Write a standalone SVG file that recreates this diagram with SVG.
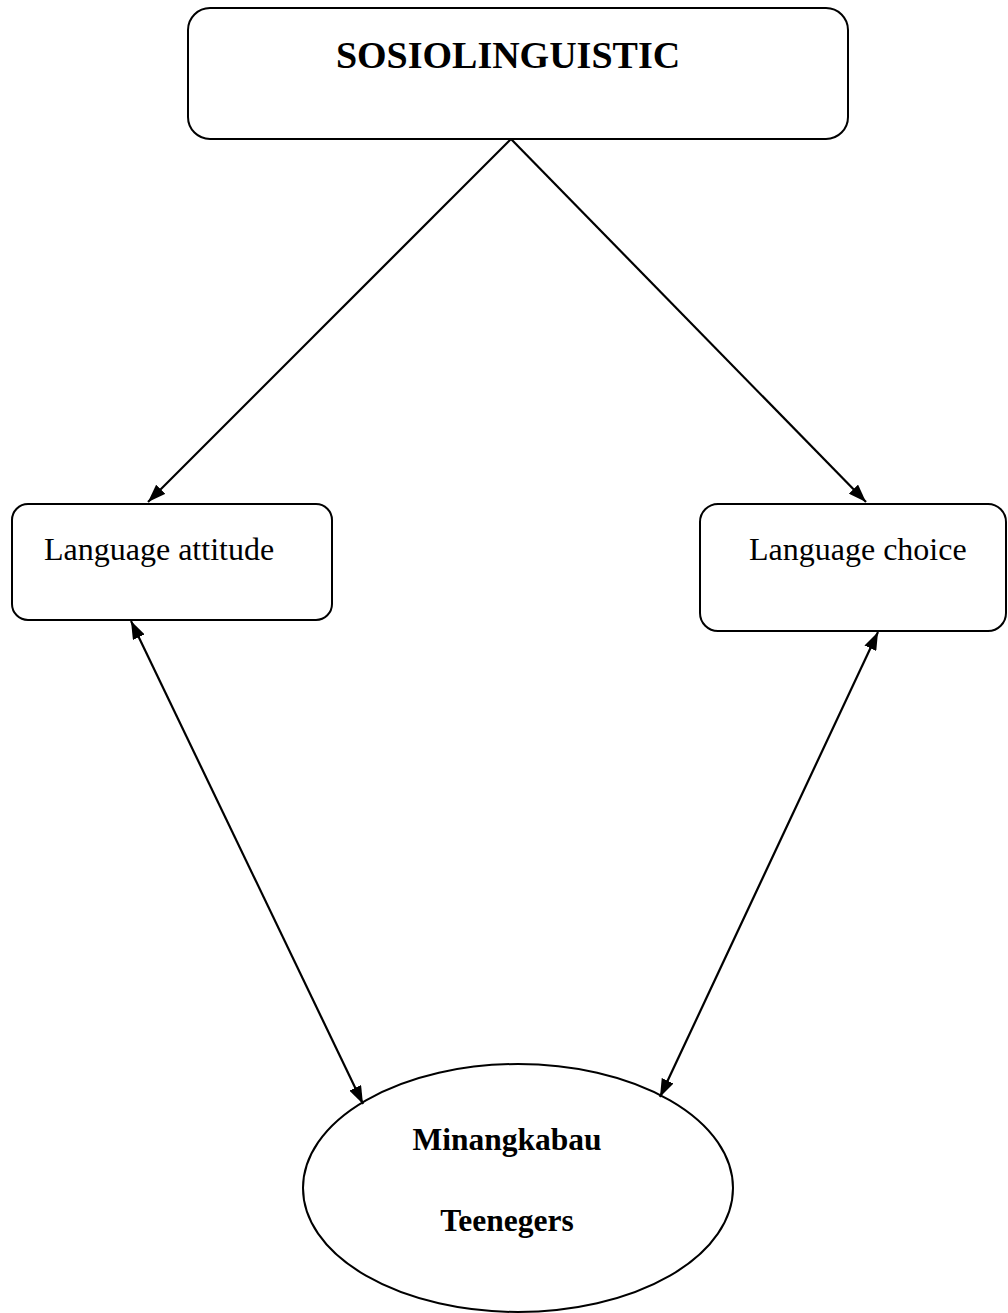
<svg xmlns="http://www.w3.org/2000/svg" width="1008" height="1313" viewBox="0 0 1008 1313">
  <style>
    .box { fill: #ffffff; stroke: #000000; stroke-width: 2; }
    .conn { stroke: #000000; stroke-width: 2.2; fill: none; }
    .lbl { font-family: "Liberation Serif", "Times New Roman", serif; fill: #000000; }
    .title { font-size: 38px; font-weight: bold; }
    .reg { font-size: 32px; }
    .bold { font-size: 31.5px; font-weight: bold; }
  </style>
  <defs>
    <marker id="arrow" viewBox="0 0 18 13" refX="18" refY="6.5" markerWidth="18" markerHeight="13" markerUnits="userSpaceOnUse" orient="auto-start-reverse">
      <path d="M0,0 L18,6.5 L0,13 z" fill="#000000"/>
    </marker>
  </defs>
  <rect width="1008" height="1313" fill="#ffffff"/>

  <g id="node-sosiolinguistic">
    <rect class="box" x="188" y="8" width="660" height="131" rx="22" ry="22"/>
    <text class="lbl title" x="508" y="68" text-anchor="middle">SOSIOLINGUISTIC</text>
  </g>

  <g id="node-language-attitude">
    <rect class="box" x="12" y="504" width="320" height="116" rx="16" ry="16"/>
    <text class="lbl reg" x="44" y="560">Language attitude</text>
  </g>

  <g id="node-language-choice">
    <rect class="box" x="700" y="504" width="306" height="127" rx="18" ry="18"/>
    <text class="lbl reg" x="749" y="560">Language choice</text>
  </g>

  <g id="node-minangkabau-teenegers">
    <ellipse class="box" cx="518" cy="1188" rx="215" ry="124"/>
    <text class="lbl bold" x="507" y="1150" text-anchor="middle">Minangkabau</text>
    <text class="lbl bold" x="507" y="1231" text-anchor="middle">Teenegers</text>
  </g>

  <g id="connectors">
    <line class="conn" x1="511" y1="139" x2="148" y2="502" marker-end="url(#arrow)"/>
    <line class="conn" x1="511" y1="139" x2="866" y2="502" marker-end="url(#arrow)"/>
    <line class="conn" x1="131" y1="621" x2="363" y2="1104" marker-start="url(#arrow)" marker-end="url(#arrow)"/>
    <line class="conn" x1="878" y1="632" x2="660" y2="1097" marker-start="url(#arrow)" marker-end="url(#arrow)"/>
  </g>
</svg>
